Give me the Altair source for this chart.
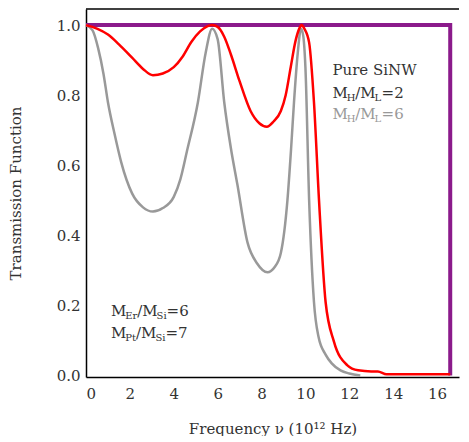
import altair as alt
import pandas as pd

# ---------------- data ----------------
pure_x = [0, 16.6, 16.6]
pure_y = [1.0, 1.0, 0.0]

red_x = [0, 0.5, 1.0, 1.5, 2.1, 2.6, 3.05, 3.5, 4.0, 4.4, 4.8, 5.2, 5.5, 5.75, 6.0, 6.3, 6.6, 7.0, 7.5, 7.9, 8.24, 8.55, 8.88, 9.1, 9.33, 9.55, 9.72, 9.82, 9.95, 10.17, 10.39, 10.62, 10.92, 11.3, 11.9, 12.4, 13.0, 13.3, 13.7, 16.6]
red_y = [1.0, 0.99, 0.973, 0.945, 0.907, 0.875, 0.857, 0.862, 0.88, 0.91, 0.952, 0.982, 0.996, 1.0, 0.995, 0.967, 0.917, 0.84, 0.755, 0.72, 0.71, 0.725, 0.755, 0.8, 0.88, 0.955, 0.99, 1.0, 0.99, 0.95, 0.78, 0.5, 0.21, 0.097, 0.03, 0.015, 0.012, 0.012, 0.004, 0.004]

gray_x = [0, 0.3, 0.55, 0.8, 1.0, 1.3, 1.6, 2.1, 2.6, 3.05, 3.5, 4.0, 4.3, 4.6, 5.1, 5.45, 5.75, 6.0, 6.3, 6.6, 6.9, 7.36, 7.8, 8.27, 8.6, 8.88, 9.18, 9.35, 9.48, 9.65, 9.8, 9.9, 10.0, 10.17, 10.39, 10.6, 10.92, 11.2, 11.6, 12.0, 12.5]
gray_y = [1.0, 0.985, 0.935, 0.86, 0.78, 0.69, 0.61, 0.52, 0.48, 0.468, 0.478, 0.51, 0.56, 0.64, 0.78, 0.92, 0.99, 0.96, 0.78, 0.65, 0.545, 0.38, 0.32, 0.295, 0.31, 0.35, 0.5, 0.65, 0.78, 0.92, 0.99, 0.97, 0.88, 0.5, 0.21, 0.11, 0.06, 0.035, 0.015, 0.006, 0.0]

x_ticks = [0, 2, 4, 6, 8, 10, 12, 14, 16]
y_ticks = [0.0, 0.2, 0.4, 0.6, 0.8, 1.0]

# ---------------- layout ----------------
W, H = 373, 368
XMAX = 17.0
YMIN, YMAX = -0.004, 1.046
PX = W / XMAX  # pixels per x unit
FONT = "DejaVu Serif"
TXT = "#333333"
PURPLE = "#8B1A8B"

xs = alt.Scale(domain=[0, XMAX], nice=False, zero=False)
ys = alt.Scale(domain=[YMIN, YMAX], nice=False, zero=False)

def line(xv, yv, color, width, interp):
    df = pd.DataFrame({"x": xv, "y": yv, "o": range(len(xv))})
    return alt.Chart(df).mark_line(color=color, strokeWidth=width, interpolate=interp).encode(
        x=alt.X("x:Q", scale=xs, axis=alt.Axis(values=x_ticks, title="Frequency ν (10¹² Hz)", format="d")),
        y=alt.Y("y:Q", scale=ys, axis=alt.Axis(values=y_ticks, title="Transmission Function", format=".1f")),
        order="o:Q",
    )

purple = line(pure_x, pure_y, PURPLE, 4, "linear")
gray = line(gray_x, gray_y, "#999999", 2.5, "monotone")
red = line(red_x, red_y, "#FF0000", 2.5, "monotone")

# ---------------- annotations ----------------
EMW = {"M": 0.95, "H": 0.86, "L": 0.70, "E": 0.72, "P": 0.68, "S": 0.68,
       "i": 0.32, "r": 0.48, "t": 0.40, "/": 0.34, "=": 0.84}
def tw(s, size):
    return sum(EMW.get(c, 0.636) for c in s) * size

NS, SS = 15, 10
labels = [
    (11.23, 0.858, [("Pure SiNW", 0)], TXT),
    (11.23, 0.792, [("M", 0), ("H", 1), ("/M", 0), ("L", 1), ("=2", 0)], TXT),
    (11.23, 0.732, [("M", 0), ("H", 1), ("/M", 0), ("L", 1), ("=6", 0)], "#999999"),
    (1.14, 0.170, [("M", 0), ("Er", 1), ("/M", 0), ("Si", 1), ("=6", 0)], TXT),
    (1.14, 0.108, [("M", 0), ("Pt", 1), ("/M", 0), ("Si", 1), ("=7", 0)], TXT),
]
rows = []
for x0, y0, segs, col in labels:
    off = 0.0
    for s, sub in segs:
        size = SS if sub else NS
        rows.append({"t": s, "x": x0 + off / PX, "y": y0, "sub": sub, "c": col})
        off += tw(s, size)
ann = pd.DataFrame(rows)

norm_txt = alt.Chart(ann).transform_filter("datum.sub == 0").mark_text(
    align="left", baseline="alphabetic", font=FONT, fontSize=NS).encode(
    x=alt.X("x:Q", scale=xs), y=alt.Y("y:Q", scale=ys), text="t:N", color=alt.Color("c:N", scale=None))
sub_txt = alt.Chart(ann).transform_filter("datum.sub == 1").mark_text(
    align="left", baseline="alphabetic", font=FONT, fontSize=SS, dy=3).encode(
    x=alt.X("x:Q", scale=xs), y=alt.Y("y:Q", scale=ys), text="t:N", color=alt.Color("c:N", scale=None))

top_border = alt.Chart(pd.DataFrame({"a": [0]})).mark_rule(color="black", strokeWidth=1.5).encode(
    x=alt.value(0), x2=alt.value(W), y=alt.value(0))

chart = alt.layer(purple, gray, red, norm_txt, sub_txt, top_border).properties(
    width=W, height=H, padding={"left": 0, "top": 0, "right": 0, "bottom": 0}
).configure_view(stroke=None).configure_axis(
    labelFont=FONT, titleFont=FONT, labelFontSize=15, titleFontSize=15,
    labelColor=TXT, titleColor=TXT, titleFontWeight="normal",
    domainColor="black", domainWidth=1.5, ticks=False, grid=False,
).configure_axisX(labelPadding=9, titlePadding=20).configure_axisY(labelPadding=6, titlePadding=33)

chart.save("out.html", embed_options={"renderer": "svg", "actions": False})
